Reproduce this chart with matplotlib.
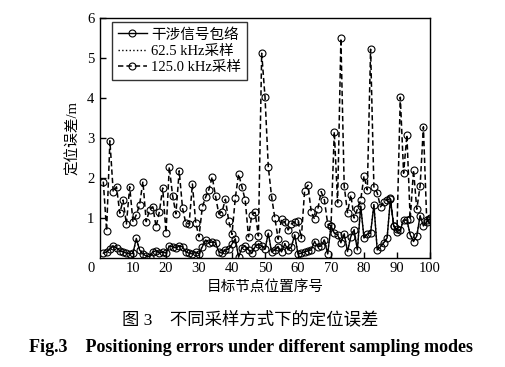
import numpy as np
import matplotlib
matplotlib.use("Agg")
import matplotlib.pyplot as plt

plt.rcParams['font.family'] = ['Liberation Serif', 'Noto Sans CJK SC']
plt.rcParams['axes.unicode_minus'] = False

# Node index
node_idx = list(range(1, 101))

# Envelope of the interference signal
envelope = [0.12, 0.15, 0.22, 0.30, 0.25, 0.18, 0.15, 0.12, 0.10, 0.12,
            0.49, 0.20, 0.10, 0.05, 0.03, 0.15, 0.18, 0.12, 0.15, 0.12,
            0.30, 0.28, 0.25, 0.30, 0.28, 0.15, 0.12, 0.10, 0.15, 0.10,
            0.28, 0.45, 0.38, 0.40, 0.38, 0.15, 0.12, 0.20, 0.22, 0.35,
            0.48, 0.02, 0.25, 0.30, 0.20, 0.12, 0.28, 0.35, 0.30, 0.22,
            0.62, 0.15, 0.20, 0.28, 0.15, 0.35, 0.20, 0.28, 0.58, 0.10,
            0.12, 0.15, 0.18, 0.20, 0.41, 0.28, 0.30, 0.45, 0.10, 0.80,
            0.62, 0.58, 0.38, 0.60, 0.16, 0.53, 0.70, 0.20, 1.30, 0.50,
            0.60, 0.62, 1.33, 0.20, 0.28, 0.38, 0.50, 1.47, 0.80, 0.66,
            0.70, 0.95, 0.95, 0.58, 0.41, 0.55, 1.06, 0.80, 0.90, 0.97]

# 62.5 kHz sampling
samp_625 = [0.14, 0.16, 0.24, 0.31, 0.27, 0.20, 0.16, 0.14, 0.12, 0.13,
            0.45, 0.22, 0.12, 0.07, 0.05, 0.16, 0.20, 0.14, 0.16, 0.14,
            0.31, 0.30, 0.27, 0.31, 0.29, 0.17, 0.14, 0.12, 0.16, 0.12,
            0.30, 0.46, 0.40, 0.41, 0.39, 0.17, 0.14, 0.22, 0.24, 0.36,
            0.46, 0.05, 0.27, 0.31, 0.22, 0.14, 0.30, 0.36, 0.31, 0.24,
            0.60, 0.17, 0.22, 0.29, 0.17, 0.36, 0.22, 0.30, 0.56, 0.12,
            0.14, 0.17, 0.20, 0.22, 0.42, 0.30, 0.31, 0.46, 0.12, 0.82,
            0.64, 0.60, 0.40, 0.62, 0.18, 0.55, 0.72, 0.22, 1.28, 0.52,
            0.62, 0.64, 1.35, 0.22, 0.30, 0.40, 0.52, 1.45, 0.82, 0.68,
            0.72, 0.97, 0.93, 0.60, 0.43, 0.57, 1.04, 0.82, 0.92, 0.99]

# 125.0 kHz sampling
samp_125 = [1.91, 0.68, 2.93, 1.66, 1.78, 1.12, 1.45, 0.85, 1.78, 0.90,
            1.08, 1.33, 1.91, 0.91, 1.20, 1.28, 0.78, 1.16, 1.75, 0.63,
            2.28, 1.56, 1.10, 2.18, 1.25, 0.87, 0.85, 1.85, 0.88, 0.53,
            1.27, 1.52, 1.71, 2.03, 1.55, 1.10, 1.16, 1.47, 0.93, 0.59,
            1.50, 2.10, 1.78, 1.45, 0.53, 1.08, 1.14, 0.55, 5.12, 4.03,
            2.28, 1.53, 0.99, 0.47, 0.97, 0.90, 0.70, 0.85, 0.90, 0.93,
            0.49, 1.68, 1.82, 1.16, 0.97, 1.22, 1.66, 1.45, 0.85, 0.80,
            3.16, 1.38, 5.49, 1.80, 1.13, 1.58, 1.00, 1.22, 1.45, 2.05,
            1.70, 5.22, 1.78, 1.63, 1.28, 1.41, 1.45, 1.49, 0.80, 0.72,
            4.02, 2.12, 3.08, 0.97, 2.20, 1.22, 1.80, 3.28, 0.95, 1.00]

fig = plt.figure(figsize=(5.05, 3.67), dpi=100)
ax = fig.add_axes([100 / 505, 1 - 258 / 367, 330 / 505, 240 / 367])

ax.plot(node_idx, envelope, '-', color='black', lw=1.0, marker='o', ms=5,
        mfc='none', mec='black', mew=0.8, label='干涉信号包络')
ax.plot(node_idx, samp_625, ':', color='black', lw=1.0, label='62.5 kHz采样')
ax.plot(node_idx, samp_125, '--', color='black', lw=1.1, marker='o', ms=5,
        mfc='none', mec='black', mew=0.8, dashes=(3.5, 2), label='125.0 kHz采样')

ax.set_xlim(0, 100)
ax.set_ylim(0, 6)
ax.set_xticks(range(10, 101, 10))
ax.set_yticks(range(1, 7))
ax.tick_params(direction='in', length=4, width=1, labelsize=10.5)
ax.tick_params(axis='x', pad=3)
ax.tick_params(axis='y', pad=4)
for s in ax.spines.values():
    s.set_linewidth(1.0)

ax.annotate('0', xy=(0, 0), xytext=(-6.5, -7.5), textcoords='offset points',
            ha='center', va='center', fontsize=10.5)

ax.set_ylabel('定位误差/m', fontsize=10.5, labelpad=5)
ax.set_xlabel('目标节点位置序号', fontsize=10.5, labelpad=4)

leg = ax.legend(loc='upper left', bbox_to_anchor=(0.036, 0.983), borderaxespad=0,
                fontsize=10.5, frameon=True, fancybox=False, handlelength=2.0,
                handletextpad=0.3, labelspacing=0.2, borderpad=0.4)
leg.get_frame().set_edgecolor('black')
leg.get_frame().set_linewidth(1.0)

fig.text(250 / 505, 1 - 320 / 367, '图 3    不同采样方式下的定位误差', ha='center', va='center',
         fontsize=12.5)
fig.text(251 / 505, 1 - 348 / 367, 'Fig.3    Positioning errors under different sampling modes',
         ha='center', va='center', fontsize=13, fontweight='bold')

fig.savefig('out.png', dpi=100)
